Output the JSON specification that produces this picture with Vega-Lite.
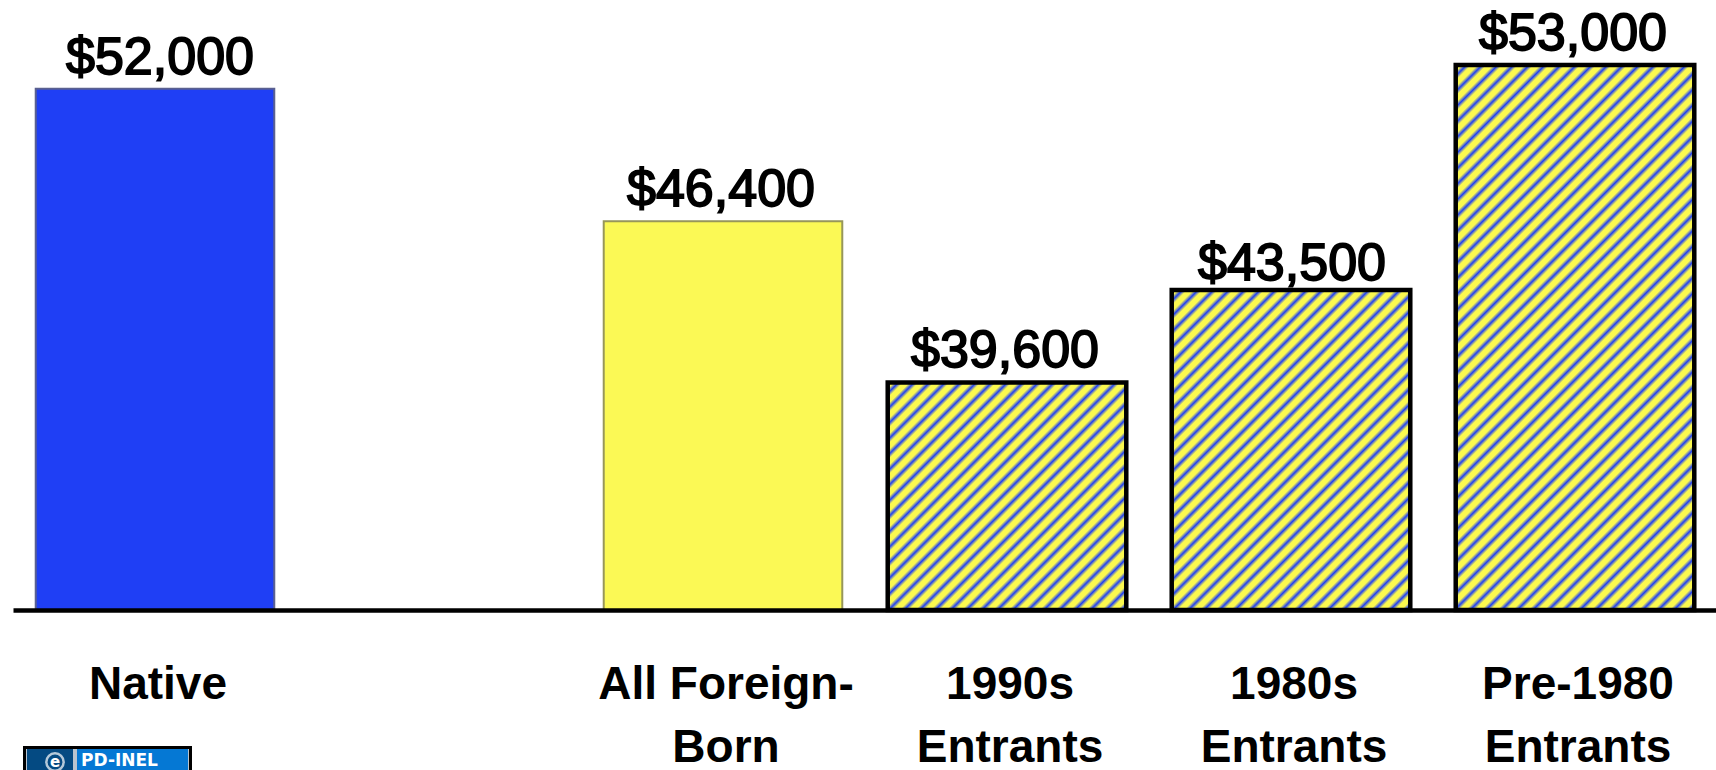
{
"$schema":"https://vega.github.io/schema/vega-lite/v6.json",
"width":1716,"height":610,
"autosize":{"type":"none"},
"padding":{"left":0,"right":0,"top":0,"bottom":160},
"background":"white",
"view":{"stroke":null},
"config":{"text":{"font":"Liberation Sans"}},
"data":{"values":[
{"group":"Native","income":52000,"label":"$52,000"},
{"group":"All Foreign-Born","income":46400,"label":"$46,400"},
{"group":"1990s Entrants","income":39600,"label":"$39,600"},
{"group":"1980s Entrants","income":43500,"label":"$43,500"},
{"group":"Pre-1980 Entrants","income":53000,"label":"$53,000"}
]},
"encoding":{
"x":{"field":"group","type":"nominal","sort":null,"title":null,
"scale":{"domain":["Native"," ","All Foreign-Born","1990s Entrants","1980s Entrants","Pre-1980 Entrants"],"range":[13,1717],"paddingInner":0.16,"paddingOuter":0.08},
"axis":{"ticks":false,"grid":false,"labelAngle":0,"domainColor":"black","domainWidth":4.5,"labelFont":"Liberation Sans","labelFontWeight":"bold","labelFontSize":46,"labelColor":"black","labelLimit":0,"labelOverlap":false,"labelPadding":88,"labelLineHeight":63,"labelBaseline":"alphabetic","labelOffset":3,"zindex":1,
"labelExpr":"datum.value=='All Foreign-Born'?['All Foreign-','Born']:split(datum.value,' ')"}},
"y":{"field":"income","type":"quantitative","title":null,"axis":null,"scale":{"domain":[30000,55740],"nice":false,"zero":false,"range":[610,0]}}
},
"layer":[
{"mark":{"type":"bar"},
"encoding":{
"y2":{"datum":30000},
"fill":{"condition":[
{"test":"datum.group=='Native'","value":"#1f3ff5"},
{"test":"datum.group=='All Foreign-Born'","value":"#fbf955"},
{"test":"datum.group=='1990s Entrants'","value":{"gradient":"linear","x1":0,"y1":0,"x2":1.0232,"y2":0.9756,"stops":[
{"offset":0,"color":"#fbf94f"},{"offset":0.0133,"color":"#fbf94f"},{"offset":0.0233,"color":"#1f3ff5"},
{"offset":0.0333,"color":"#fbf94f"},{"offset":0.0467,"color":"#fbf94f"},{"offset":0.0567,"color":"#1f3ff5"},
{"offset":0.0667,"color":"#fbf94f"},{"offset":0.08,"color":"#fbf94f"},{"offset":0.09,"color":"#1f3ff5"},
{"offset":0.1,"color":"#fbf94f"},{"offset":0.1133,"color":"#fbf94f"},{"offset":0.1233,"color":"#1f3ff5"},
{"offset":0.1333,"color":"#fbf94f"},{"offset":0.1467,"color":"#fbf94f"},{"offset":0.1567,"color":"#1f3ff5"},
{"offset":0.1667,"color":"#fbf94f"},{"offset":0.18,"color":"#fbf94f"},{"offset":0.19,"color":"#1f3ff5"},
{"offset":0.2,"color":"#fbf94f"},{"offset":0.2133,"color":"#fbf94f"},{"offset":0.2233,"color":"#1f3ff5"},
{"offset":0.2333,"color":"#fbf94f"},{"offset":0.2467,"color":"#fbf94f"},{"offset":0.2567,"color":"#1f3ff5"},
{"offset":0.2667,"color":"#fbf94f"},{"offset":0.28,"color":"#fbf94f"},{"offset":0.29,"color":"#1f3ff5"},
{"offset":0.3,"color":"#fbf94f"},{"offset":0.3133,"color":"#fbf94f"},{"offset":0.3233,"color":"#1f3ff5"},
{"offset":0.3333,"color":"#fbf94f"},{"offset":0.3467,"color":"#fbf94f"},{"offset":0.3567,"color":"#1f3ff5"},
{"offset":0.3667,"color":"#fbf94f"},{"offset":0.38,"color":"#fbf94f"},{"offset":0.39,"color":"#1f3ff5"},
{"offset":0.4,"color":"#fbf94f"},{"offset":0.4133,"color":"#fbf94f"},{"offset":0.4233,"color":"#1f3ff5"},
{"offset":0.4333,"color":"#fbf94f"},{"offset":0.4467,"color":"#fbf94f"},{"offset":0.4567,"color":"#1f3ff5"},
{"offset":0.4667,"color":"#fbf94f"},{"offset":0.48,"color":"#fbf94f"},{"offset":0.49,"color":"#1f3ff5"},
{"offset":0.5,"color":"#fbf94f"},{"offset":0.5133,"color":"#fbf94f"},{"offset":0.5233,"color":"#1f3ff5"},
{"offset":0.5333,"color":"#fbf94f"},{"offset":0.5467,"color":"#fbf94f"},{"offset":0.5567,"color":"#1f3ff5"},
{"offset":0.5667,"color":"#fbf94f"},{"offset":0.58,"color":"#fbf94f"},{"offset":0.59,"color":"#1f3ff5"},
{"offset":0.6,"color":"#fbf94f"},{"offset":0.6133,"color":"#fbf94f"},{"offset":0.6233,"color":"#1f3ff5"},
{"offset":0.6333,"color":"#fbf94f"},{"offset":0.6467,"color":"#fbf94f"},{"offset":0.6567,"color":"#1f3ff5"},
{"offset":0.6667,"color":"#fbf94f"},{"offset":0.68,"color":"#fbf94f"},{"offset":0.69,"color":"#1f3ff5"},
{"offset":0.7,"color":"#fbf94f"},{"offset":0.7133,"color":"#fbf94f"},{"offset":0.7233,"color":"#1f3ff5"},
{"offset":0.7333,"color":"#fbf94f"},{"offset":0.7467,"color":"#fbf94f"},{"offset":0.7567,"color":"#1f3ff5"},
{"offset":0.7667,"color":"#fbf94f"},{"offset":0.78,"color":"#fbf94f"},{"offset":0.79,"color":"#1f3ff5"},
{"offset":0.8,"color":"#fbf94f"},{"offset":0.8133,"color":"#fbf94f"},{"offset":0.8233,"color":"#1f3ff5"},
{"offset":0.8333,"color":"#fbf94f"},{"offset":0.8467,"color":"#fbf94f"},{"offset":0.8567,"color":"#1f3ff5"},
{"offset":0.8667,"color":"#fbf94f"},{"offset":0.88,"color":"#fbf94f"},{"offset":0.89,"color":"#1f3ff5"},
{"offset":0.9,"color":"#fbf94f"},{"offset":0.9133,"color":"#fbf94f"},{"offset":0.9233,"color":"#1f3ff5"},
{"offset":0.9333,"color":"#fbf94f"},{"offset":0.9467,"color":"#fbf94f"},{"offset":0.9567,"color":"#1f3ff5"},
{"offset":0.9667,"color":"#fbf94f"},{"offset":0.98,"color":"#fbf94f"},{"offset":0.99,"color":"#1f3ff5"},{"offset":1,"color":"#fbf94f"}
]}},
{"test":"datum.group=='1980s Entrants'","value":{"gradient":"linear","x1":0,"y1":0,"x2":0.8365,"y2":1.1219,"stops":[
{"offset":0,"color":"#fbf94f"},{"offset":0.0111,"color":"#fbf94f"},{"offset":0.0194,"color":"#1f3ff5"},
{"offset":0.0278,"color":"#fbf94f"},{"offset":0.0389,"color":"#fbf94f"},{"offset":0.0472,"color":"#1f3ff5"},
{"offset":0.0556,"color":"#fbf94f"},{"offset":0.0667,"color":"#fbf94f"},{"offset":0.075,"color":"#1f3ff5"},
{"offset":0.0833,"color":"#fbf94f"},{"offset":0.0944,"color":"#fbf94f"},{"offset":0.1028,"color":"#1f3ff5"},
{"offset":0.1111,"color":"#fbf94f"},{"offset":0.1222,"color":"#fbf94f"},{"offset":0.1306,"color":"#1f3ff5"},
{"offset":0.1389,"color":"#fbf94f"},{"offset":0.15,"color":"#fbf94f"},{"offset":0.1583,"color":"#1f3ff5"},
{"offset":0.1667,"color":"#fbf94f"},{"offset":0.1778,"color":"#fbf94f"},{"offset":0.1861,"color":"#1f3ff5"},
{"offset":0.1944,"color":"#fbf94f"},{"offset":0.2056,"color":"#fbf94f"},{"offset":0.2139,"color":"#1f3ff5"},
{"offset":0.2222,"color":"#fbf94f"},{"offset":0.2333,"color":"#fbf94f"},{"offset":0.2417,"color":"#1f3ff5"},
{"offset":0.25,"color":"#fbf94f"},{"offset":0.2611,"color":"#fbf94f"},{"offset":0.2694,"color":"#1f3ff5"},
{"offset":0.2778,"color":"#fbf94f"},{"offset":0.2889,"color":"#fbf94f"},{"offset":0.2972,"color":"#1f3ff5"},
{"offset":0.3056,"color":"#fbf94f"},{"offset":0.3167,"color":"#fbf94f"},{"offset":0.325,"color":"#1f3ff5"},
{"offset":0.3333,"color":"#fbf94f"},{"offset":0.3444,"color":"#fbf94f"},{"offset":0.3528,"color":"#1f3ff5"},
{"offset":0.3611,"color":"#fbf94f"},{"offset":0.3722,"color":"#fbf94f"},{"offset":0.3806,"color":"#1f3ff5"},
{"offset":0.3889,"color":"#fbf94f"},{"offset":0.4,"color":"#fbf94f"},{"offset":0.4083,"color":"#1f3ff5"},
{"offset":0.4167,"color":"#fbf94f"},{"offset":0.4278,"color":"#fbf94f"},{"offset":0.4361,"color":"#1f3ff5"},
{"offset":0.4444,"color":"#fbf94f"},{"offset":0.4556,"color":"#fbf94f"},{"offset":0.4639,"color":"#1f3ff5"},
{"offset":0.4722,"color":"#fbf94f"},{"offset":0.4833,"color":"#fbf94f"},{"offset":0.4917,"color":"#1f3ff5"},
{"offset":0.5,"color":"#fbf94f"},{"offset":0.5111,"color":"#fbf94f"},{"offset":0.5194,"color":"#1f3ff5"},
{"offset":0.5278,"color":"#fbf94f"},{"offset":0.5389,"color":"#fbf94f"},{"offset":0.5472,"color":"#1f3ff5"},
{"offset":0.5556,"color":"#fbf94f"},{"offset":0.5667,"color":"#fbf94f"},{"offset":0.575,"color":"#1f3ff5"},
{"offset":0.5833,"color":"#fbf94f"},{"offset":0.5944,"color":"#fbf94f"},{"offset":0.6028,"color":"#1f3ff5"},
{"offset":0.6111,"color":"#fbf94f"},{"offset":0.6222,"color":"#fbf94f"},{"offset":0.6306,"color":"#1f3ff5"},
{"offset":0.6389,"color":"#fbf94f"},{"offset":0.65,"color":"#fbf94f"},{"offset":0.6583,"color":"#1f3ff5"},
{"offset":0.6667,"color":"#fbf94f"},{"offset":0.6778,"color":"#fbf94f"},{"offset":0.6861,"color":"#1f3ff5"},
{"offset":0.6944,"color":"#fbf94f"},{"offset":0.7056,"color":"#fbf94f"},{"offset":0.7139,"color":"#1f3ff5"},
{"offset":0.7222,"color":"#fbf94f"},{"offset":0.7333,"color":"#fbf94f"},{"offset":0.7417,"color":"#1f3ff5"},
{"offset":0.75,"color":"#fbf94f"},{"offset":0.7611,"color":"#fbf94f"},{"offset":0.7694,"color":"#1f3ff5"},
{"offset":0.7778,"color":"#fbf94f"},{"offset":0.7889,"color":"#fbf94f"},{"offset":0.7972,"color":"#1f3ff5"},
{"offset":0.8056,"color":"#fbf94f"},{"offset":0.8167,"color":"#fbf94f"},{"offset":0.825,"color":"#1f3ff5"},
{"offset":0.8333,"color":"#fbf94f"},{"offset":0.8444,"color":"#fbf94f"},{"offset":0.8528,"color":"#1f3ff5"},
{"offset":0.8611,"color":"#fbf94f"},{"offset":0.8722,"color":"#fbf94f"},{"offset":0.8806,"color":"#1f3ff5"},
{"offset":0.8889,"color":"#fbf94f"},{"offset":0.9,"color":"#fbf94f"},{"offset":0.9083,"color":"#1f3ff5"},
{"offset":0.9167,"color":"#fbf94f"},{"offset":0.9278,"color":"#fbf94f"},{"offset":0.9361,"color":"#1f3ff5"},
{"offset":0.9444,"color":"#fbf94f"},{"offset":0.9556,"color":"#fbf94f"},{"offset":0.9639,"color":"#1f3ff5"},
{"offset":0.9722,"color":"#fbf94f"},{"offset":0.9833,"color":"#fbf94f"},{"offset":0.9917,"color":"#1f3ff5"},{"offset":1,"color":"#fbf94f"}
]}}
],
"value":{"gradient":"linear","x1":0,"y1":0,"x2":0.5282,"y2":1.2066,"stops":[
{"offset":0,"color":"#fbf94f"},{"offset":0.008,"color":"#fbf94f"},{"offset":0.014,"color":"#1f3ff5"},
{"offset":0.02,"color":"#fbf94f"},{"offset":0.028,"color":"#fbf94f"},{"offset":0.034,"color":"#1f3ff5"},
{"offset":0.04,"color":"#fbf94f"},{"offset":0.048,"color":"#fbf94f"},{"offset":0.054,"color":"#1f3ff5"},
{"offset":0.06,"color":"#fbf94f"},{"offset":0.068,"color":"#fbf94f"},{"offset":0.074,"color":"#1f3ff5"},
{"offset":0.08,"color":"#fbf94f"},{"offset":0.088,"color":"#fbf94f"},{"offset":0.094,"color":"#1f3ff5"},
{"offset":0.1,"color":"#fbf94f"},{"offset":0.108,"color":"#fbf94f"},{"offset":0.114,"color":"#1f3ff5"},
{"offset":0.12,"color":"#fbf94f"},{"offset":0.128,"color":"#fbf94f"},{"offset":0.134,"color":"#1f3ff5"},
{"offset":0.14,"color":"#fbf94f"},{"offset":0.148,"color":"#fbf94f"},{"offset":0.154,"color":"#1f3ff5"},
{"offset":0.16,"color":"#fbf94f"},{"offset":0.168,"color":"#fbf94f"},{"offset":0.174,"color":"#1f3ff5"},
{"offset":0.18,"color":"#fbf94f"},{"offset":0.188,"color":"#fbf94f"},{"offset":0.194,"color":"#1f3ff5"},
{"offset":0.2,"color":"#fbf94f"},{"offset":0.208,"color":"#fbf94f"},{"offset":0.214,"color":"#1f3ff5"},
{"offset":0.22,"color":"#fbf94f"},{"offset":0.228,"color":"#fbf94f"},{"offset":0.234,"color":"#1f3ff5"},
{"offset":0.24,"color":"#fbf94f"},{"offset":0.248,"color":"#fbf94f"},{"offset":0.254,"color":"#1f3ff5"},
{"offset":0.26,"color":"#fbf94f"},{"offset":0.268,"color":"#fbf94f"},{"offset":0.274,"color":"#1f3ff5"},
{"offset":0.28,"color":"#fbf94f"},{"offset":0.288,"color":"#fbf94f"},{"offset":0.294,"color":"#1f3ff5"},
{"offset":0.3,"color":"#fbf94f"},{"offset":0.308,"color":"#fbf94f"},{"offset":0.314,"color":"#1f3ff5"},
{"offset":0.32,"color":"#fbf94f"},{"offset":0.328,"color":"#fbf94f"},{"offset":0.334,"color":"#1f3ff5"},
{"offset":0.34,"color":"#fbf94f"},{"offset":0.348,"color":"#fbf94f"},{"offset":0.354,"color":"#1f3ff5"},
{"offset":0.36,"color":"#fbf94f"},{"offset":0.368,"color":"#fbf94f"},{"offset":0.374,"color":"#1f3ff5"},
{"offset":0.38,"color":"#fbf94f"},{"offset":0.388,"color":"#fbf94f"},{"offset":0.394,"color":"#1f3ff5"},
{"offset":0.4,"color":"#fbf94f"},{"offset":0.408,"color":"#fbf94f"},{"offset":0.414,"color":"#1f3ff5"},
{"offset":0.42,"color":"#fbf94f"},{"offset":0.428,"color":"#fbf94f"},{"offset":0.434,"color":"#1f3ff5"},
{"offset":0.44,"color":"#fbf94f"},{"offset":0.448,"color":"#fbf94f"},{"offset":0.454,"color":"#1f3ff5"},
{"offset":0.46,"color":"#fbf94f"},{"offset":0.468,"color":"#fbf94f"},{"offset":0.474,"color":"#1f3ff5"},
{"offset":0.48,"color":"#fbf94f"},{"offset":0.488,"color":"#fbf94f"},{"offset":0.494,"color":"#1f3ff5"},
{"offset":0.5,"color":"#fbf94f"},{"offset":0.508,"color":"#fbf94f"},{"offset":0.514,"color":"#1f3ff5"},
{"offset":0.52,"color":"#fbf94f"},{"offset":0.528,"color":"#fbf94f"},{"offset":0.534,"color":"#1f3ff5"},
{"offset":0.54,"color":"#fbf94f"},{"offset":0.548,"color":"#fbf94f"},{"offset":0.554,"color":"#1f3ff5"},
{"offset":0.56,"color":"#fbf94f"},{"offset":0.568,"color":"#fbf94f"},{"offset":0.574,"color":"#1f3ff5"},
{"offset":0.58,"color":"#fbf94f"},{"offset":0.588,"color":"#fbf94f"},{"offset":0.594,"color":"#1f3ff5"},
{"offset":0.6,"color":"#fbf94f"},{"offset":0.608,"color":"#fbf94f"},{"offset":0.614,"color":"#1f3ff5"},
{"offset":0.62,"color":"#fbf94f"},{"offset":0.628,"color":"#fbf94f"},{"offset":0.634,"color":"#1f3ff5"},
{"offset":0.64,"color":"#fbf94f"},{"offset":0.648,"color":"#fbf94f"},{"offset":0.654,"color":"#1f3ff5"},
{"offset":0.66,"color":"#fbf94f"},{"offset":0.668,"color":"#fbf94f"},{"offset":0.674,"color":"#1f3ff5"},
{"offset":0.68,"color":"#fbf94f"},{"offset":0.688,"color":"#fbf94f"},{"offset":0.694,"color":"#1f3ff5"},
{"offset":0.7,"color":"#fbf94f"},{"offset":0.708,"color":"#fbf94f"},{"offset":0.714,"color":"#1f3ff5"},
{"offset":0.72,"color":"#fbf94f"},{"offset":0.728,"color":"#fbf94f"},{"offset":0.734,"color":"#1f3ff5"},
{"offset":0.74,"color":"#fbf94f"},{"offset":0.748,"color":"#fbf94f"},{"offset":0.754,"color":"#1f3ff5"},
{"offset":0.76,"color":"#fbf94f"},{"offset":0.768,"color":"#fbf94f"},{"offset":0.774,"color":"#1f3ff5"},
{"offset":0.78,"color":"#fbf94f"},{"offset":0.788,"color":"#fbf94f"},{"offset":0.794,"color":"#1f3ff5"},
{"offset":0.8,"color":"#fbf94f"},{"offset":0.808,"color":"#fbf94f"},{"offset":0.814,"color":"#1f3ff5"},
{"offset":0.82,"color":"#fbf94f"},{"offset":0.828,"color":"#fbf94f"},{"offset":0.834,"color":"#1f3ff5"},
{"offset":0.84,"color":"#fbf94f"},{"offset":0.848,"color":"#fbf94f"},{"offset":0.854,"color":"#1f3ff5"},
{"offset":0.86,"color":"#fbf94f"},{"offset":0.868,"color":"#fbf94f"},{"offset":0.874,"color":"#1f3ff5"},
{"offset":0.88,"color":"#fbf94f"},{"offset":0.888,"color":"#fbf94f"},{"offset":0.894,"color":"#1f3ff5"},
{"offset":0.9,"color":"#fbf94f"},{"offset":0.908,"color":"#fbf94f"},{"offset":0.914,"color":"#1f3ff5"},
{"offset":0.92,"color":"#fbf94f"},{"offset":0.928,"color":"#fbf94f"},{"offset":0.934,"color":"#1f3ff5"},
{"offset":0.94,"color":"#fbf94f"},{"offset":0.948,"color":"#fbf94f"},{"offset":0.954,"color":"#1f3ff5"},
{"offset":0.96,"color":"#fbf94f"},{"offset":0.968,"color":"#fbf94f"},{"offset":0.974,"color":"#1f3ff5"},
{"offset":0.98,"color":"#fbf94f"},{"offset":0.988,"color":"#fbf94f"},{"offset":0.994,"color":"#1f3ff5"},{"offset":1,"color":"#fbf94f"}
]}},
"stroke":{"condition":[
{"test":"datum.group=='Native'","value":"#5a6090"},
{"test":"datum.group=='All Foreign-Born'","value":"#97965a"}
],"value":"black"},
"strokeWidth":{"condition":{"test":"datum.group=='Native'||datum.group=='All Foreign-Born'","value":2},"value":4.5}
}},
{"transform":[{"filter":"datum.group=='Native'"}],
"mark":{"type":"text","fontSize":52,"fontWeight":"normal","color":"black","stroke":"black","strokeWidth":1.8,"baseline":"alphabetic","dy":-15,"dx":5},
"encoding":{"text":{"field":"label"}}},
{"transform":[{"filter":"datum.group!='1980s Entrants'&&datum.group!='Native'"}],
"mark":{"type":"text","fontSize":52,"fontWeight":"normal","color":"black","stroke":"black","strokeWidth":1.8,"baseline":"alphabetic","dy":-15,"dx":-2},
"encoding":{"text":{"field":"label"}}},
{"transform":[{"filter":"datum.group=='1980s Entrants'"}],
"mark":{"type":"text","fontSize":52,"fontWeight":"normal","color":"black","stroke":"black","strokeWidth":1.8,"baseline":"alphabetic","dy":-10,"dx":1},
"encoding":{"text":{"field":"label"}}},
{"data":{"values":[{"badge":"PD-INEL","symbol":"e"}]},
"layer":[
{"mark":{"type":"rect","x":23,"x2":192,"y":746,"y2":780,"fill":"black"},"encoding":{"x":null,"y":null}},
{"mark":{"type":"rect","x":26,"x2":189,"y":749,"y2":780,"fill":"#b9c4cf"},"encoding":{"x":null,"y":null}},
{"mark":{"type":"rect","x":27,"x2":73,"y":749,"y2":780,"fill":"#044a82"},"encoding":{"x":null,"y":null}},
{"mark":{"type":"rect","x":77,"x2":188,"y":749,"y2":780,"fill":"#0578d4"},"encoding":{"x":null,"y":null}},
{"mark":{"type":"point","x":55,"y":762,"size":300,"filled":false,"stroke":"white","strokeWidth":2.5},"encoding":{"x":null,"y":null}},
{"mark":{"type":"text","x":55,"y":767,"fontSize":15,"fontWeight":"bold","color":"white","align":"center","baseline":"alphabetic","font":"DejaVu Sans"},"encoding":{"x":null,"y":null,"text":{"field":"symbol"}}},
{"mark":{"type":"text","x":81,"y":766,"fontSize":17,"fontWeight":"bold","color":"white","align":"left","baseline":"alphabetic","font":"DejaVu Sans"},"encoding":{"x":null,"y":null,"text":{"field":"badge"}}}
]}
]
}
